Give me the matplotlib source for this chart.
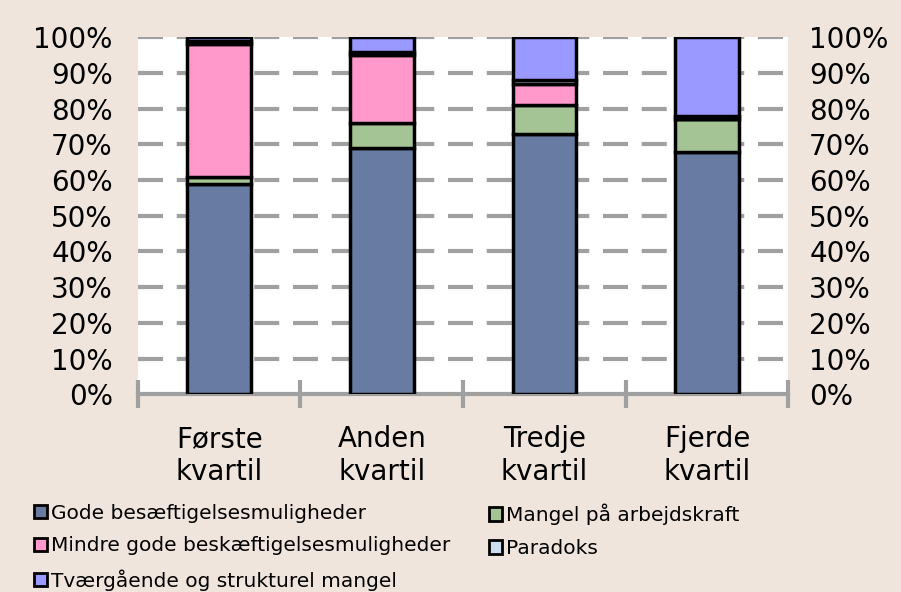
import numpy as np
import matplotlib.pyplot as plt
from matplotlib.patches import Patch

categories = ["Første\nkvartil", "Anden\nkvartil", "Tredje\nkvartil", "Fjerde\nkvartil"]
series = [
    "Gode besæftigelsesmuligheder",
    "Mangel på arbejdskraft",
    "Mindre gode beskæftigelsesmuligheder",
    "Paradoks",
    "Tværgående og strukturel mangel",
]
gode = [59, 69, 73, 68]
mangel = [2, 7, 8, 9]
mindre = [37, 19, 6, 0]
paradoks = [1, 1, 1, 1]
tvaer = [1, 4, 12, 22]
colors = ["#687BA2", "#A5C495", "#FF99CC", "#CCDDF2", "#9999FF"]

bg = "#EFE5DC"
fig = plt.figure(figsize=(9.01, 5.92), dpi=100, facecolor=bg)
ax = fig.add_axes([0.153, 0.334, 0.722, 0.603])
ax.set_facecolor("white")

x = np.arange(len(categories))
bottom = np.zeros(len(categories))
for vals, col in zip([gode, mangel, mindre, paradoks, tvaer], colors):
    v = np.array(vals) / 100
    ax.bar(x, v, 0.39, bottom=bottom, color=col, edgecolor="black",
           linewidth=2.5, zorder=3)
    bottom += v

ax.set_xlim(-0.5, 3.5)
ax.set_ylim(0, 1)
yt = np.arange(0, 1.01, 0.1)
ax.set_yticks(yt)
ax.set_yticklabels([f"{int(round(t*100))}%" for t in yt])
ax.tick_params(axis="y", length=0, labelsize=20, pad=18)
for t in yt[1:]:
    ax.axhline(t, color="#A0A0A0", lw=3, dashes=(6, 3.3), zorder=1)

for s in ["top", "left", "right"]:
    ax.spines[s].set_visible(False)
ax.spines["bottom"].set_color("#A0A0A0")
ax.spines["bottom"].set_linewidth(3)

ax.set_xticks(x)
ax.set_xticklabels(categories, fontsize=20, linespacing=1.22)
ax.set_xticks(np.arange(-0.5, 4, 1), minor=True)
ax.tick_params(axis="x", which="major", length=0, pad=22)
ax.tick_params(axis="x", which="minor", length=20, width=3, color="#A0A0A0",
               direction="inout")

ax2 = ax.twinx()
ax2.set_ylim(0, 1)
ax2.set_yticks(yt)
ax2.set_yticklabels([f"{int(round(t*100))}%" for t in yt])
ax2.tick_params(axis="y", length=0, labelsize=20, pad=15)
for s in ["top", "left", "right", "bottom"]:
    ax2.spines[s].set_visible(False)

handles = [Patch(facecolor=c, edgecolor="black", linewidth=2) for c in colors]
leg_kw = dict(frameon=False, fontsize=14.5, handlelength=0.65, handleheight=0.65,
              handletextpad=0.2, labelspacing=0.68, borderpad=0, borderaxespad=0)
fig.legend([handles[0], handles[2], handles[4]], [series[0], series[2], series[4]],
           loc="upper left", bbox_to_anchor=(0.038, 0.149), **leg_kw)
fig.legend([handles[1], handles[3]], [series[1], series[3]],
           loc="upper left", bbox_to_anchor=(0.543, 0.149), **leg_kw)

fig.savefig("out.png", dpi=100, facecolor=bg)
